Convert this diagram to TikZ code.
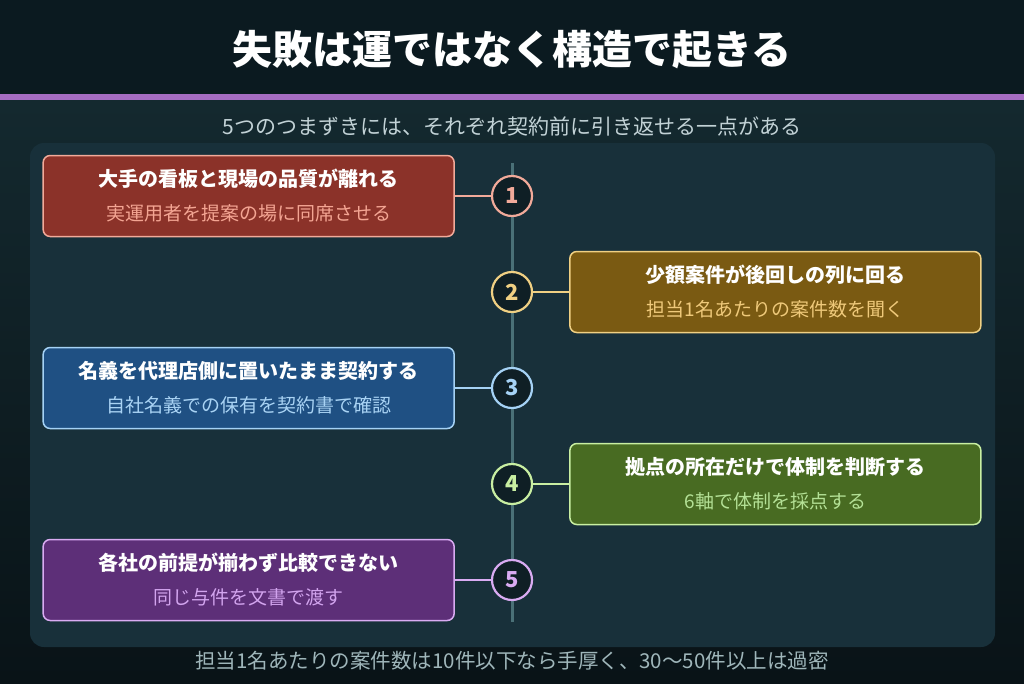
\documentclass[tikz,border=0pt]{standalone}
\usepackage{fontspec}
\usepackage{xcolor}
\usepackage{tikz}
\usetikzlibrary{positioning}
\setmainfont{Noto Sans CJK JP}

\definecolor{bandbg}{HTML}{0B1A20}
\definecolor{accent}{HTML}{A66DC2}
\definecolor{bgtop}{HTML}{14292F}
\definecolor{bgbot}{HTML}{091317}
\definecolor{panel}{HTML}{18303A}
\definecolor{subtxt}{HTML}{C2D2D6}
\definecolor{foottxt}{HTML}{9FB6BA}
\definecolor{spine}{HTML}{4A7077}
\definecolor{dot}{HTML}{0F1F25}
\definecolor{redfill}{HTML}{8B3229}
\definecolor{redline}{HTML}{F2AA9A}
\definecolor{redsub}{HTML}{F4A593}
\definecolor{goldfill}{HTML}{7A5A12}
\definecolor{goldline}{HTML}{F0D083}
\definecolor{goldsub}{HTML}{EFC97A}
\definecolor{bluefill}{HTML}{1F5083}
\definecolor{blueline}{HTML}{A5D2F5}
\definecolor{bluesub}{HTML}{A9D3F4}
\definecolor{greenfill}{HTML}{486B22}
\definecolor{greenline}{HTML}{C9EFA2}
\definecolor{greensub}{HTML}{B4E196}
\definecolor{purpfill}{HTML}{5D2F78}
\definecolor{purpline}{HTML}{D9ABF2}
\definecolor{purpsub}{HTML}{D2A4EE}

\begin{document}
\begin{tikzpicture}[x=1pt, y=-1pt, node distance=36pt,
 card/.style={draw, line width=1.5pt, rounded corners=7pt, align=center, minimum width=411pt, minimum height=81pt, inner sep=0pt, text=white, font=\fontsize{20}{34}\selectfont\bfseries},
 num/.style={circle, draw, line width=2.2pt, fill=dot, minimum size=40pt, inner sep=0pt, font=\fontsize{22}{22}\selectfont\bfseries},
 link/.style={line width=2pt}]
\useasboundingbox (0,0) rectangle (1024,683);
% background
\fill[bandbg] (0,0) rectangle (1024,94);
\shade[top color=bgtop, bottom color=bgbot] (0,100) rectangle (1024,683);
\fill[accent] (0,94) rectangle (1024,100);
\fill[panel, rounded corners=14pt] (30,143) rectangle (995,647);
\node[text=white, font=\fontsize{40}{40}\selectfont\bfseries] (title) at (512,50) {失敗は運ではなく構造で起きる};
\node[text=subtxt, font=\fontsize{21}{21}\selectfont] (lead) at (512,126) {5つのつまずきには、それぞれ契約前に引き返せる一点がある};
% timeline
\coordinate (top) at (512,163);
\coordinate (bottom) at (512,622);
\draw[spine, line width=3pt] (top) -- (bottom);
\node[num, draw=redline, text=redline] (n1) at (512,196) {1};
\node[num, draw=goldline, text=goldline] (n2) at (512,292) {2};
\node[num, draw=blueline, text=blueline] (n3) at (512,388) {3};
\node[num, draw=greenline, text=greenline] (n4) at (512,484) {4};
\node[num, draw=purpline, text=purpline] (n5) at (512,580) {5};
% cards
\node[card, fill=redfill, draw=redline, left=of n1] (c1) {大手の看板と現場の品質が離れる\\{\mdseries\fontsize{19}{34}\selectfont\color{redsub}実運用者を提案の場に同席させる}};
\node[card, fill=goldfill, draw=goldline, right=of n2] (c2) {少額案件が後回しの列に回る\\{\mdseries\fontsize{19}{34}\selectfont\color{goldsub}担当1名あたりの案件数を聞く}};
\node[card, fill=bluefill, draw=blueline, left=of n3] (c3) {名義を代理店側に置いたまま契約する\\{\mdseries\fontsize{19}{34}\selectfont\color{bluesub}自社名義での保有を契約書で確認}};
\node[card, fill=greenfill, draw=greenline, right=of n4] (c4) {拠点の所在だけで体制を判断する\\{\mdseries\fontsize{19}{34}\selectfont\color{greensub}6軸で体制を採点する}};
\node[card, fill=purpfill, draw=purpline, left=of n5] (c5) {各社の前提が揃わず比較できない\\{\mdseries\fontsize{19}{34}\selectfont\color{purpsub}同じ与件を文書で渡す}};
\draw[link, redline] (c1) -- (n1); \draw[link, goldline] (n2) -- (c2); \draw[link, blueline] (c3) -- (n3);
\draw[link, greenline] (n4) -- (c4); \draw[link, purpline] (c5) -- (n5);
\node[text=foottxt, font=\fontsize{20.5}{20.5}\selectfont] (foot) at (512,661) {担当1名あたりの案件数は10件以下なら手厚く、30〜50件以上は過密};
\end{tikzpicture}
\end{document}
